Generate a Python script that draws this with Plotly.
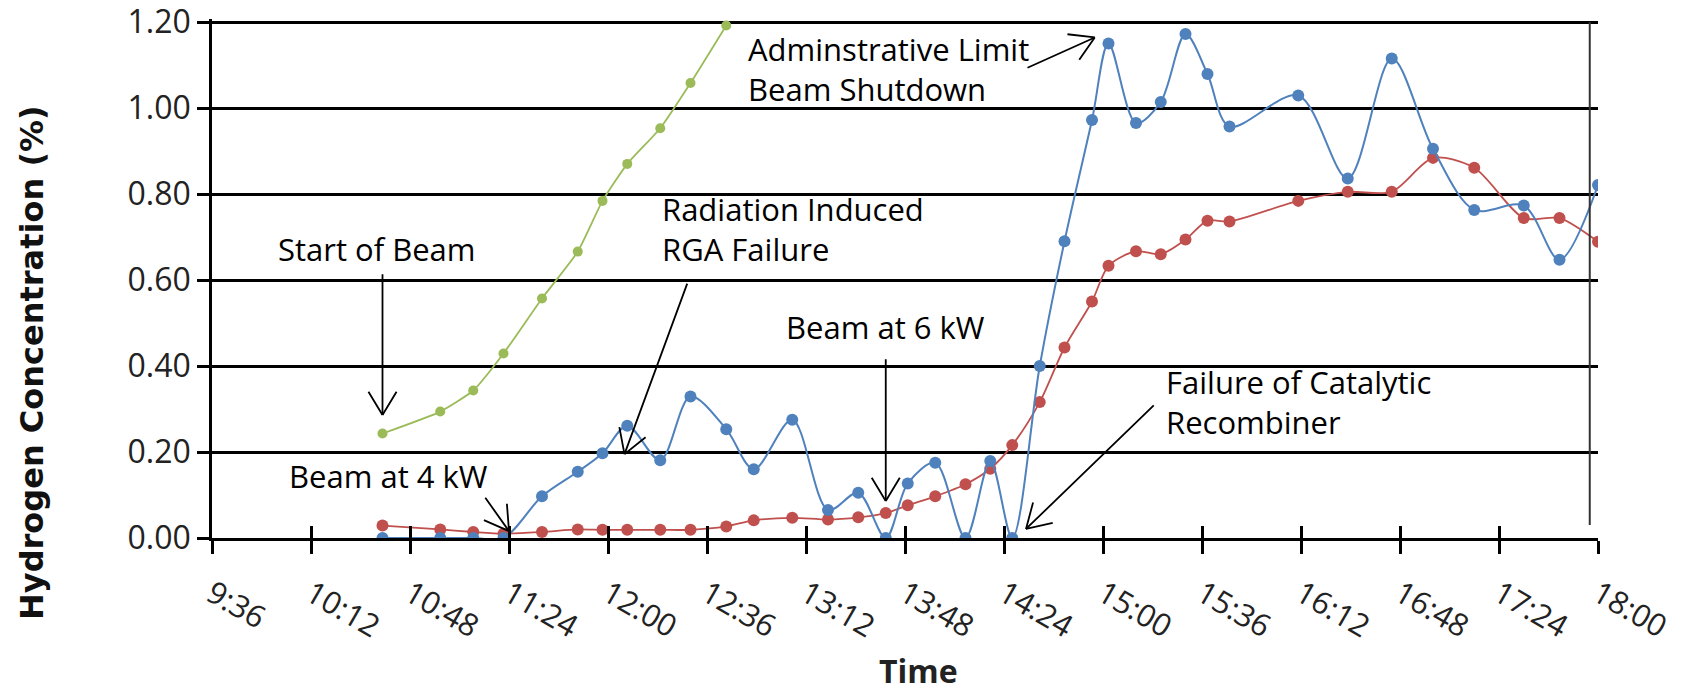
import math
import plotly.graph_objects as go

DAY = "2024-01-01 "

# ---- data ----
times_main = ["10:38", "10:59", "11:11", "11:22", "11:36", "11:49", "11:58", "12:07",
              "12:19", "12:30", "12:43", "12:53", "13:07", "13:20", "13:31", "13:41",
              "13:49", "13:59", "14:10", "14:19", "14:27", "14:37", "14:46", "14:56",
              "15:02", "15:12", "15:21", "15:30", "15:38", "15:46", "16:11", "16:29",
              "16:45", "17:00", "17:15", "17:33", "17:46", "18:00"]

blue_vals = [0.0, 0.0, 0.0, 0.0, 0.097, 0.154, 0.197, 0.261,
             0.181, 0.329, 0.253, 0.160, 0.275, 0.065, 0.105, 0.0,
             0.127, 0.175, 0.0, 0.179, 0.0, 0.40, 0.690, 0.972,
             1.150, 0.965, 1.014, 1.172, 1.079, 0.957, 1.029, 0.836,
             1.115, 0.905, 0.763, 0.773, 0.647, 0.821]

red_vals = [0.029, 0.020, 0.014, 0.010, 0.014, 0.020, 0.019, 0.019,
            0.019, 0.019, 0.027, 0.041, 0.047, 0.043, 0.048, 0.058,
            0.076, 0.097, 0.125, 0.161, 0.216, 0.316, 0.443, 0.550,
            0.633, 0.667, 0.660, 0.694, 0.738, 0.736, 0.784, 0.805,
            0.805, 0.884, 0.861, 0.744, 0.744, 0.689]

times_green = ["10:38", "10:59", "11:11", "11:22", "11:36", "11:49", "11:58",
               "12:07", "12:19", "12:30", "12:43"]
green_vals = [0.243, 0.294, 0.343, 0.429, 0.557, 0.666, 0.784,
              0.870, 0.953, 1.058, 1.192]

tick_labels = ["9:36", "10:12", "10:48", "11:24", "12:00", "12:36", "13:12", "13:48",
               "14:24", "15:00", "15:36", "16:12", "16:48", "17:24", "18:00"]
y_ticks = [0.0, 0.2, 0.4, 0.6, 0.8, 1.0, 1.2]

# annotations: (text, x time, y value, xanchor)
labels = [
    ("Start of Beam", "10:36", 0.672, "center"),
    ("Beam at 4 kW", "10:40", 0.144, "center"),
    ("Radiation Induced<br>RGA Failure", "12:19", 0.718, "left"),
    ("Beam at 6 kW", "13:41", 0.490, "center"),
    ("Failure of Catalytic<br>Recombiner", "15:22", 0.316, "left"),
    ("Adminstrative Limit<br>Beam Shutdown", "12:50", 1.090, "left"),
]
# arrows: (tail time, tail value, tip time, tip value)
arrows = [
    ("10:38", 0.617, "10:38", 0.286),
    ("11:15", 0.097, "11:24", 0.016),
    ("12:29", 0.595, "12:06", 0.195),
    ("13:41", 0.419, "13:41", 0.086),
    ("15:19", 0.312, "14:32", 0.021),
    ("14:32", 1.092, "14:57", 1.164),
]
border_time = "17:57"

BLUE = "#4F81BD"
RED = "#C0504D"
GREEN = "#9BBB59"
FONT = "Open Sans"

W, H = 1696, 695
TOP_PAD = 3  # px of headroom so the 1.20 gridline is drawn
ML, MR, MT, MB = 212, 98, 22 - TOP_PAD, 157
PW, PH = W - ML - MR, H - MT - MB
Y_MAX = 1.2
px_per_unit = (PH - TOP_PAD) / Y_MAX
Y_TOP = Y_MAX + TOP_PAD / px_per_unit


def d(t):
    return DAY + t


def minutes(t):
    h, m = t.split(":")
    return int(h) * 60 + int(m)


T0, T1 = minutes(tick_labels[0]), minutes(tick_labels[-1])
px_per_min = PW / (T1 - T0)

fig = go.Figure()
fig.add_trace(go.Scatter(x=[d(t) for t in times_green], y=green_vals, mode="lines+markers",
                         line=dict(color=GREEN, width=1.8, shape="spline", smoothing=0.5),
                         marker=dict(color=GREEN, size=10), showlegend=False))
fig.add_trace(go.Scatter(x=[d(t) for t in times_main], y=red_vals, mode="lines+markers",
                         line=dict(color=RED, width=1.8, shape="spline", smoothing=0.8),
                         marker=dict(color=RED, size=12), showlegend=False))
fig.add_trace(go.Scatter(x=[d(t) for t in times_main], y=blue_vals, mode="lines+markers",
                         line=dict(color=BLUE, width=2, shape="spline", smoothing=0.9),
                         marker=dict(color=BLUE, size=12), showlegend=False))
# invisible trace for the overlay axis (cross ticks)
fig.add_trace(go.Scatter(x=[d(times_main[0])], y=[None], xaxis="x2", showlegend=False,
                         hoverinfo="skip"))

tickvals = [d(t) for t in tick_labels]
xrange = [d(tick_labels[0]), d(tick_labels[-1])]

annotations = []
for text, t, v, xa in labels:
    annotations.append(dict(x=d(t), y=v, xref="x", yref="y", text=text, showarrow=False,
                             xanchor=xa, yanchor="middle", align="left",
                             font=dict(family=FONT, size=31, color="black")))

HEAD_LEN, HEAD_ANG = 29, math.radians(31)
for t0, v0, t1, v1 in arrows:
    # shaft
    annotations.append(dict(x=d(t1), y=v1, ax=d(t0), ay=v0, xref="x", yref="y",
                             axref="x", ayref="y", text="", showarrow=True,
                             arrowhead=0, arrowwidth=1.8, arrowcolor="black"))
    # open V head (two strokes), in screen pixels
    dx = (minutes(t0) - minutes(t1)) * px_per_min
    dy = -(v0 - v1) * px_per_unit
    n = math.hypot(dx, dy)
    ux, uy = dx / n, dy / n
    for s in (1, -1):
        c, si = math.cos(s * HEAD_ANG), math.sin(s * HEAD_ANG)
        wx, wy = ux * c - uy * si, ux * si + uy * c
        annotations.append(dict(x=d(t1), y=v1, xref="x", yref="y",
                                 ax=wx * HEAD_LEN, ay=wy * HEAD_LEN, text="",
                                 showarrow=True, arrowhead=0, arrowwidth=1.8,
                                 arrowcolor="black"))

# axis titles
annotations.append(dict(x=(32 - ML) / PW, y=(MT + PH - 363) / PH, xref="paper", yref="paper",
                        text="<b>Hydrogen Concentration (%)</b>", textangle=-90,
                        showarrow=False, xanchor="center", yanchor="middle",
                        font=dict(family="DejaVu Sans", size=32, color="#111")))
annotations.append(dict(x=(918 - ML) / PW, y=(MT + PH - H + 1) / PH, xref="paper",
                        yref="paper", text="<b>Time</b>", showarrow=False,
                        xanchor="center", yanchor="bottom",
                        font=dict(family=FONT, size=32, color="#222")))

fig.update_layout(
    width=W, height=H,
    margin=dict(l=ML, r=MR, t=MT, b=MB),
    paper_bgcolor="white", plot_bgcolor="white",
    font=dict(family=FONT, color="#222"),
    xaxis=dict(type="date", range=xrange, tickmode="array", tickvals=tickvals,
               ticktext=tick_labels, tickangle=30, ticks="outside", ticklen=13,
               tickwidth=2.5, tickcolor="black", showline=True, linecolor="black",
               linewidth=2.5, showgrid=False, zeroline=False, automargin=False,
               ticklabeloverflow="allow", ticklabelstandoff=10,
               tickfont=dict(family=FONT, size=31, color="#222")),
    xaxis2=dict(type="date", range=xrange, overlaying="x", anchor="y", side="bottom",
                tickmode="array", tickvals=tickvals, ticks="inside", ticklen=12,
                tickwidth=2.5, tickcolor="black", showticklabels=False,
                showline=False, showgrid=False, zeroline=False, automargin=False),
    yaxis=dict(range=[0, Y_TOP], tickmode="array", tickvals=y_ticks,
               tickformat=".2f", ticklabeloverflow="allow",
               ticks="outside", ticklen=12, tickwidth=2.5, tickcolor="black",
               showline=True, linecolor="black", linewidth=2.5, automargin=False,
               showgrid=True, gridcolor="black", gridwidth=2.5, zeroline=False,
               tickfont=dict(family=FONT, size=32, color="#222")),
    annotations=annotations,
    shapes=[dict(type="line", xref="x", yref="y", x0=d(border_time), x1=d(border_time),
                 y0=0.03, y1=Y_MAX, line=dict(color="#333", width=2))],
)

fig.write_html("out.html", config={"displayModeBar": False},
               post_script="document.body.style.margin='0px';"
                           "document.body.style.overflow='hidden';")
